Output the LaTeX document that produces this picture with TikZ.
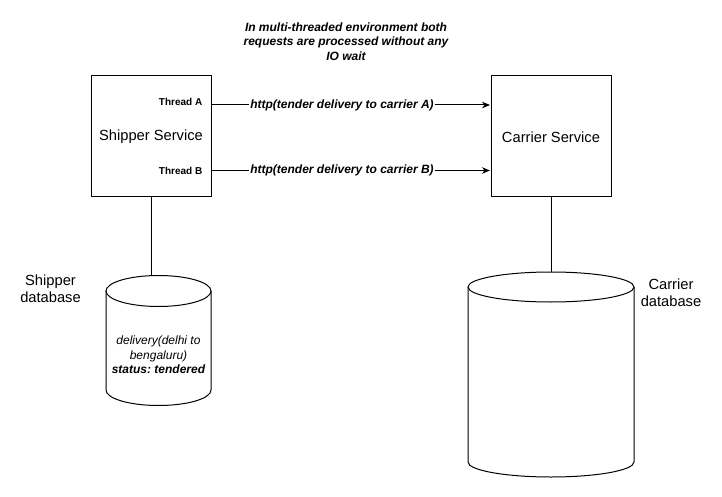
\documentclass[tikz,border=0pt]{standalone}
\usepackage{fontspec}
\setmainfont{Liberation Sans}
\usetikzlibrary{arrows.meta}
\frenchspacing
\begin{document}
\begin{tikzpicture}[x=1pt,y=-1pt,
  ln/.style={line width=1pt,draw=black},
  svcbox/.style={draw=black,line width=1pt,minimum width=120pt,minimum height=120pt,inner sep=0pt},
  big/.style={font=\fontsize{14.7}{17}\selectfont,align=center},
  thr/.style={font=\bfseries\fontsize{10}{12}\selectfont,anchor=east,inner sep=0pt},
  lbl/.style={font=\bfseries\itshape\fontsize{12}{14.5}\selectfont,fill=white,inner sep=1pt},
  arr/.style={ln,-{Stealth[length=8pt,width=6.5pt,inset=2.5pt]}}
]
\useasboundingbox[fill=white] (0,0) rectangle (722,497);

% title
\node[font=\bfseries\itshape\fontsize{12}{14.5}\selectfont,align=center] (title) at (346,41.5)
  {In multi-threaded environment both\\requests are processed without any\\IO wait};

% service boxes
\node[svcbox] (ship) at (151,136) {};
\node[big] (shiptxt) at (151,137) {Shipper Service};
\node[svcbox] (carr) at (551,136) {};
\node[big] (carrtxt) at (551,137) {Carrier Service};

\node[thr] (ta) at (202.5,101.5) {Thread A};
\node[thr] (tb) at (202.5,170.5) {Thread B};

\coordinate (aS) at (211,105);
\coordinate (aE) at (490,105);
\coordinate (bS) at (211,170.5);
\coordinate (bE) at (490,170.5);
\draw[arr] (aS) -- (aE);
\draw[arr] (bS) -- (bE);
\node[lbl] (la) at (342,105) {http(tender delivery to carrier A)};
\node[lbl] (lb) at (342,170.5) {http(tender delivery to carrier B)};

% shipper database cylinder
\draw[ln,fill=white] (106,291) -- (106,390) arc[start angle=180,end angle=360,x radius=52.5pt,y radius=15.5pt] -- (211,291);
\draw[ln] (158.5,291) ellipse[x radius=52.5pt,y radius=15.5pt];
\coordinate (sdbtop) at (151,276);
\draw[ln] (ship.south) -- (sdbtop);
\node[font=\itshape\fontsize{12}{14.5}\selectfont,align=center] (sdbtxt) at (158.5,355)
  {delivery(delhi to\\bengaluru)\\\bfseries status: tendered};
\node[big] (sdblbl) at (50.5,288.5) {Shipper\\database};

% carrier database cylinder
\draw[ln,fill=white] (468,287) -- (468,462) arc[start angle=180,end angle=360,x radius=83pt,y radius=15pt] -- (634,287);
\draw[ln] (551,287) ellipse[x radius=83pt,y radius=15pt];
\coordinate (cdbtop) at (551,272);
\draw[ln] (carr.south) -- (cdbtop);
\node[big] (cdblbl) at (671,292.5) {Carrier\\database};
\end{tikzpicture}
\end{document}
